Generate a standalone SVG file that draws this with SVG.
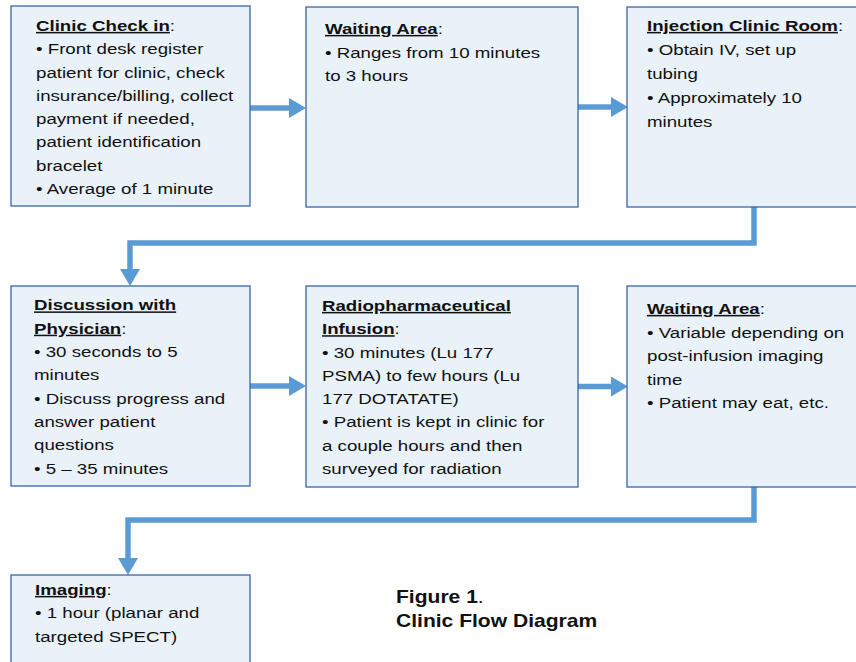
<svg xmlns="http://www.w3.org/2000/svg" width="856" height="662" viewBox="0 0 856 662">
<style>
.box{fill:#e9f1f9;stroke:#3a64a8;stroke-width:1.3}
.t{font-family:"Liberation Sans",Arial,sans-serif;font-size:15.2px;fill:#111}
.h{font-weight:bold;text-decoration:underline}
.cap{font-family:"Liberation Sans",Arial,sans-serif;font-size:18px;fill:#111}
.b{font-weight:bold}
.con{fill:none;stroke:#5b9bd5;stroke-width:5.5;stroke-linejoin:miter}
</style>
<defs>
<marker id="ah" markerUnits="userSpaceOnUse" markerWidth="17" markerHeight="20" viewBox="0 0 17 20" refX="0" refY="10" orient="auto">
<path d="M0,0 L17,10 L0,20 Z" fill="#5b9bd5"/>
</marker>
</defs>
<rect width="856" height="662" fill="#fff"/>
<g id="connectors">
<path class="con" d="M250,108 H289" marker-end="url(#ah)"/>
<path class="con" d="M578,107 H611" marker-end="url(#ah)"/>
<path class="con" d="M754,207 V243 H130 V269" marker-end="url(#ah)"/>
<path class="con" d="M250,386 H289" marker-end="url(#ah)"/>
<path class="con" d="M578,386.5 H611" marker-end="url(#ah)"/>
<path class="con" d="M754,487 V520 H128 V558" marker-end="url(#ah)"/>
</g>
<g id="checkin">
<rect class="box" x="11" y="6" width="239" height="200"/>
<g transform="translate(36,0) scale(1.23,1)" class="t">
<text y="31"><tspan class="h">Clinic Check in</tspan>:</text>
<text y="54.3">• Front desk register</text>
<text y="77.6">patient for clinic, check</text>
<text y="100.9">insurance/billing, collect</text>
<text y="124.2">payment if needed,</text>
<text y="147.5">patient identification</text>
<text y="170.8">bracelet</text>
<text y="194.1">• Average of 1 minute</text>
</g>
</g>
<g id="waiting1">
<rect class="box" x="306" y="7" width="272" height="200"/>
<g transform="translate(325,0) scale(1.23,1)" class="t">
<text y="34"><tspan class="h">Waiting Area</tspan>:</text>
<text y="58">• Ranges from 10 minutes</text>
<text y="81.5">to 3 hours</text>
</g>
</g>
<g id="injection">
<rect class="box" x="627" y="7" width="250" height="200"/>
<g transform="translate(647,0) scale(1.23,1)" class="t">
<text y="31"><tspan class="h">Injection Clinic Room</tspan>:</text>
<text y="55">• Obtain IV, set up</text>
<text y="79">tubing</text>
<text y="103">• Approximately 10</text>
<text y="127">minutes</text>
</g>
</g>
<g id="discussion">
<rect class="box" x="11" y="286" width="239" height="200"/>
<g transform="translate(34,0) scale(1.23,1)" class="t">
<text y="310.5"><tspan class="h">Discussion with</tspan></text>
<text y="333.8"><tspan class="h">Physician</tspan>:</text>
<text y="357.1">• 30 seconds to 5</text>
<text y="380.4">minutes</text>
<text y="403.7">• Discuss progress and</text>
<text y="427">answer patient</text>
<text y="450.3">questions</text>
<text y="473.6">• 5 – 35 minutes</text>
</g>
</g>
<g id="infusion">
<rect class="box" x="306" y="286" width="272" height="201"/>
<g transform="translate(322,0) scale(1.23,1)" class="t">
<text y="311"><tspan class="h">Radiopharmaceutical</tspan></text>
<text y="334.3"><tspan class="h">Infusion</tspan>:</text>
<text y="357.6">• 30 minutes (Lu 177</text>
<text y="380.9">PSMA) to few hours (Lu</text>
<text y="404.2">177 DOTATATE)</text>
<text y="427.5">• Patient is kept in clinic for</text>
<text y="450.8">a couple hours and then</text>
<text y="474.1">surveyed for radiation</text>
</g>
</g>
<g id="waiting2">
<rect class="box" x="627" y="286" width="250" height="201"/>
<g transform="translate(647,0) scale(1.23,1)" class="t">
<text y="314"><tspan class="h">Waiting Area</tspan>:</text>
<text y="338">• Variable depending on</text>
<text y="361.5">post-infusion imaging</text>
<text y="385">time</text>
<text y="408.5">• Patient may eat, etc.</text>
</g>
</g>
<g id="imaging">
<rect class="box" x="11" y="575" width="239" height="100"/>
<g transform="translate(35,0) scale(1.23,1)" class="t">
<text y="595"><tspan class="h">Imaging</tspan>:</text>
<text y="618.3">• 1 hour (planar and</text>
<text y="641.6">targeted SPECT)</text>
</g>
</g>
<g id="caption" transform="translate(396,0) scale(1.17,1)" class="cap">
<text y="603"><tspan class="b">Figure 1</tspan>.</text>
<text y="627" class="b">Clinic Flow Diagram</text>
</g>
</svg>
